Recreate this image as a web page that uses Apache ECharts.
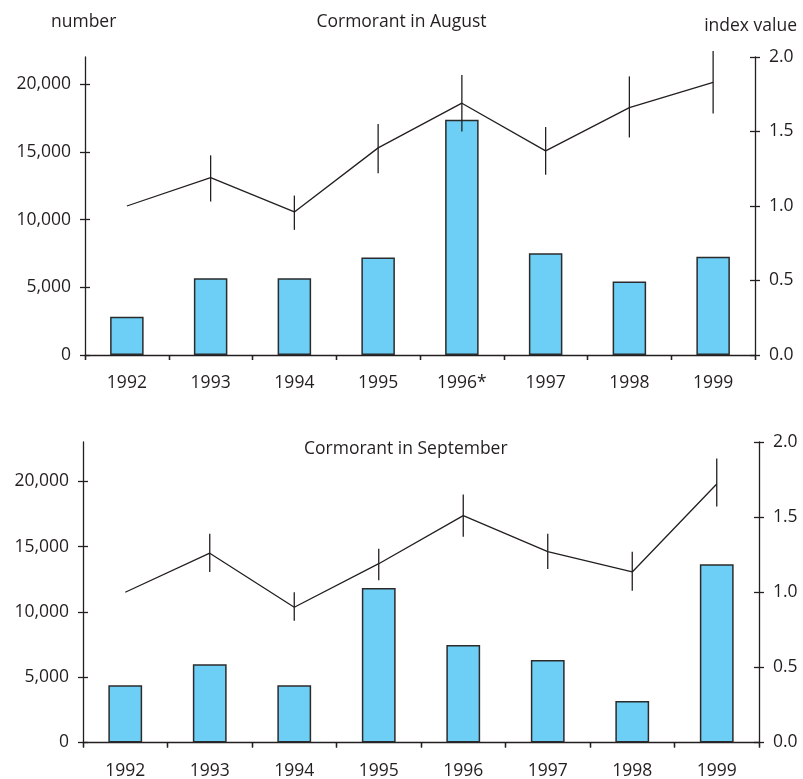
<!DOCTYPE html>
<html>
<head>
<meta charset="utf-8">
<script src="https://cdn.jsdelivr.net/npm/echarts@6/dist/echarts.min.js"></script>
<style>
html,body{margin:0;padding:0;background:#fff;}
#chart{width:803px;height:779px;}
</style>
</head>
<body>
<div id="chart"></div>
<script>
var augYears = ['1992','1993','1994','1995','1996*','1997','1998','1999'];
var sepYears = ['1992','1993','1994','1995','1996','1997','1998','1999'];
var augNumber = [2830, 5660, 5660, 7190, 17360, 7510, 5420, 7260];
var augIndex = [1.0, 1.19, 0.96, 1.39, 1.69, 1.37, 1.66, 1.83];
var augLow = [1.0, 1.03, 0.84, 1.22, 1.50, 1.21, 1.46, 1.62];
var augHigh = [1.0, 1.34, 1.07, 1.55, 1.88, 1.53, 1.87, 2.04];
var sepNumber = [4390, 5990, 4390, 11830, 7460, 6320, 3170, 13650];
var sepIndex = [1.0, 1.26, 0.90, 1.19, 1.51, 1.27, 1.135, 1.72];
var sepLow = [1.0, 1.135, 0.81, 1.08, 1.37, 1.155, 1.01, 1.57];
var sepHigh = [1.0, 1.39, 1.0, 1.29, 1.65, 1.39, 1.27, 1.89];
var leftTicks = [0, 5000, 10000, 15000, 20000];
var rightTicks = [0, 0.5, 1.0, 1.5, 2.0];

var FONT = 'Open Sans';
var TXT = '#231f20';
var LINE = '#231f20';
var BAR = '#6dcff6';
var FS = 17.5;
var TFS = 17.5;

function fmtNum(v){ return v.toString().replace(/\B(?=(\d{3})+(?!\d))/g, ','); }

function catAxis(grid, data, inside, margin){
  return {
    type: 'category', gridIndex: grid, data: data, boundaryGap: true,
    axisLine: {show: !inside, lineStyle: {color: LINE, width: 1.3}},
    axisTick: {show: true, inside: inside, length: 5, alignWithLabel: false, lineStyle: {color: LINE, width: 1.3}},
    axisLabel: {show: !inside, color: TXT, fontFamily: FONT, fontSize: FS, margin: margin},
    splitLine: {show: false}
  };
}
function valAxis(grid, pos, max, ticks, inside, fmt){
  return {
    type: 'value', gridIndex: grid, position: pos, min: 0, max: max,
    axisLine: {show: !inside, onZero: false, lineStyle: {color: LINE, width: 1.3}},
    axisTick: {show: true, inside: inside, length: 5, customValues: ticks, lineStyle: {color: LINE, width: 1.3}},
    axisLabel: {show: !inside, customValues: ticks, color: TXT, fontFamily: FONT, fontSize: FS, margin: 14, formatter: fmt},
    splitLine: {show: false}
  };
}
function errSeries(x, y, lows, highs){
  return {
    type: 'custom', xAxisIndex: x, yAxisIndex: y, z: 5,
    data: lows.map(function(l, i){ return [i, l, highs[i]]; }),
    renderItem: function(params, api){
      var a = api.coord([api.value(0), api.value(1)]);
      var b = api.coord([api.value(0), api.value(2)]);
      return {type: 'line', shape: {x1: a[0], y1: a[1], x2: b[0], y2: b[1]},
        style: {stroke: LINE, lineWidth: 1.3}};
    }
  };
}
var rightFmt = function(v){ return v.toFixed(1); };
function ttl(o){ o.textStyle = {color: TXT, fontFamily: FONT, fontSize: TFS, fontWeight: 'normal'}; return o; }

var option = {
  animation: false,
  backgroundColor: '#fff',
  textStyle: {fontFamily: FONT},
  title: [
    ttl({text: 'number', left: 46, top: 8}),
    ttl({text: 'Cormorant in August', left: 'center', top: 8}),
    ttl({text: 'index value', right: 1, top: 12}),
    ttl({text: 'Cormorant in September', left: 299, top: 435})
  ],
  grid: [
    {left: 85, right: 48, top: 57, bottom: 424, containLabel: false, outerBoundsMode: 'none'},
    {left: 83, right: 44, top: 442, bottom: 36.5, containLabel: false, outerBoundsMode: 'none'}
  ],
  xAxis: [
    catAxis(0, augYears, false, 19),
    catAxis(0, augYears, true, 19),
    catAxis(1, sepYears, false, 20),
    catAxis(1, sepYears, true, 20)
  ],
  yAxis: [
    valAxis(0, 'left', 22000, leftTicks, false, fmtNum),
    valAxis(0, 'right', 2.0, rightTicks, false, rightFmt),
    valAxis(0, 'left', 22000, leftTicks, true, fmtNum),
    valAxis(0, 'right', 2.0, rightTicks, true, rightFmt),
    valAxis(1, 'left', 23000, leftTicks, false, fmtNum),
    valAxis(1, 'right', 2.0, rightTicks, false, rightFmt),
    valAxis(1, 'left', 23000, leftTicks, true, fmtNum),
    valAxis(1, 'right', 2.0, rightTicks, true, rightFmt)
  ],
  series: [
    {type: 'bar', xAxisIndex: 0, yAxisIndex: 0, data: augNumber, barWidth: '40%',
      itemStyle: {color: BAR, borderColor: '#2b2b2b', borderWidth: 1.5}},
    {type: 'line', xAxisIndex: 0, yAxisIndex: 1, data: augIndex, showSymbol: false, symbol: 'none', z: 6,
      lineStyle: {color: LINE, width: 1.3}},
    errSeries(0, 1, augLow, augHigh),
    {type: 'bar', xAxisIndex: 2, yAxisIndex: 4, data: sepNumber, barWidth: '40%',
      itemStyle: {color: BAR, borderColor: '#2b2b2b', borderWidth: 1.5}},
    {type: 'line', xAxisIndex: 2, yAxisIndex: 5, data: sepIndex, showSymbol: false, symbol: 'none', z: 6,
      lineStyle: {color: LINE, width: 1.3}},
    errSeries(2, 5, sepLow, sepHigh)
  ]
};
var chart = echarts.init(document.getElementById('chart'), null, {renderer: 'canvas'});
chart.setOption(option);
</script>
</body>
</html>
